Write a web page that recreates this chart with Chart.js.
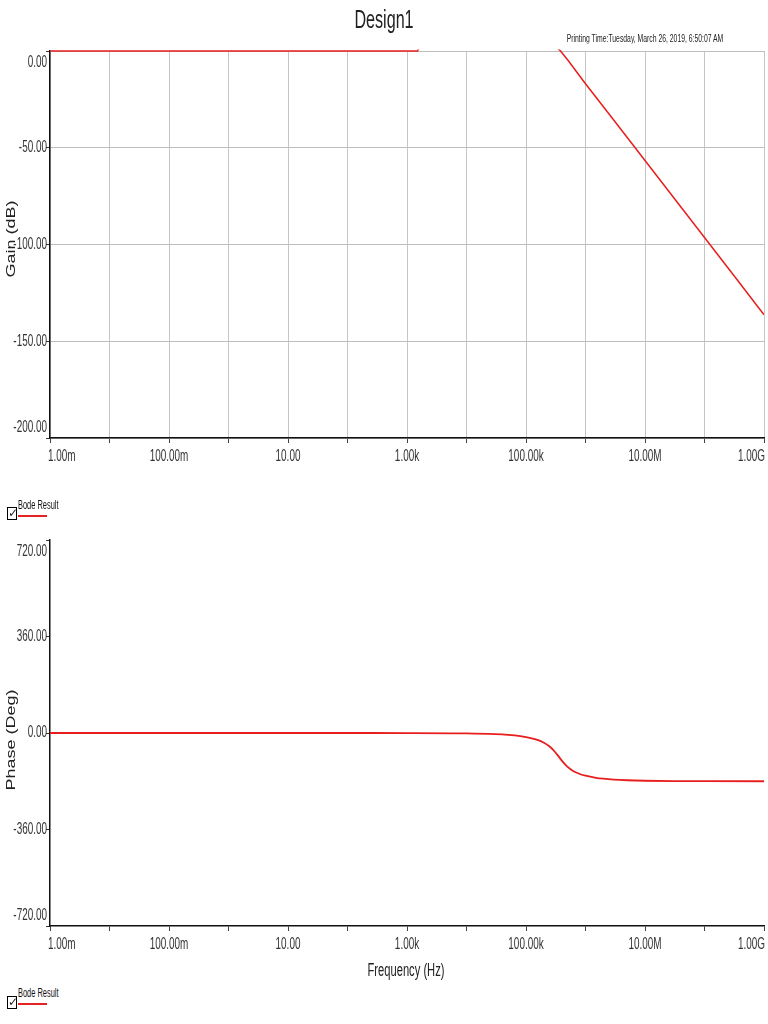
<!DOCTYPE html>
<html>
<head>
<meta charset="utf-8">
<script src="https://cdn.jsdelivr.net/npm/chart.js@4.4.1/dist/chart.umd.min.js"></script>
<style>
body { margin: 0; width: 768px; height: 1024px; position: relative; background: #fff; overflow: hidden; font-family: "Liberation Sans", Arial, sans-serif; color: #222; }
canvas { position: absolute; left: 0; }
#gainChart { top: 0; }
#phaseChart { top: 489px; }
.txt { position: absolute; white-space: nowrap; transform: translate(-50%, -50%) scaleX(0.62); line-height: 1; }
.vtxt { position: absolute; white-space: nowrap; transform: translate(-50%, -50%) scaleX(0.66) rotate(-90deg); line-height: 1; }
.chk { position: absolute; width: 10px; height: 13px; border: 1.5px solid #000; box-sizing: border-box; font: bold 12px "DejaVu Sans", sans-serif; line-height: 10px; text-align: center; overflow: hidden; }
.leg { position: absolute; font-size: 12px; transform: scaleX(0.62); transform-origin: left center; white-space: nowrap; color: #111; }
.legline { position: absolute; height: 1.5px; width: 29px; background: #e52222; }
</style>
</head>
<body>
<canvas id="gainChart" width="768" height="480"></canvas>
<canvas id="phaseChart" width="768" height="479"></canvas>

<div class="txt" style="left:384px; top:19px; font-size:26px;">Design1</div>
<div class="txt" style="left:645px; top:38px; font-size:11px;">Printing Time:Tuesday, March 26, 2019, 6:50:07 AM</div>
<div class="vtxt" style="left:11px; top:239px; font-size:18px;">Gain (dB)</div>
<div class="vtxt" style="left:11px; top:740px; font-size:18px;">Phase (Deg)</div>
<div class="txt" style="left:406px; top:970px; font-size:18px;">Frequency (Hz)</div>

<div class="chk" style="left:7px; top:507px;">✓</div>
<div class="leg" style="left:18px; top:498px;">Bode Result</div>
<div class="legline" style="left:18px; top:515px;"></div>
<div class="chk" style="left:7px; top:996px;">✓</div>
<div class="leg" style="left:18px; top:986px;">Bode Result</div>
<div class="legline" style="left:18px; top:1003px;"></div>

<script>
// frequency decades shown on the x axis (Hz)
var decades = [1e-3, 1e-2, 1e-1, 1, 10, 100, 1e3, 1e4, 1e5, 1e6, 1e7, 1e8, 1e9];
var xLabels = { 1e-3: '1.00m', 1e-1: '100.00m', 10: '10.00', 1e3: '1.00k', 1e5: '100.00k', 1e7: '10.00M', 1e9: '1.00G' };

// gain curve (slightly above 0 dB between ~1.5k and ~380k, so it is clipped there)
var gainFreq = [1e-3, 1e-2, 1e-1, 1, 10, 100, 1e3, 1.5e3, 1.7e3, 1e4, 1e5, 3e5, 3.8e5, 5e5, 1e6, 3e6, 1e7, 3e7, 1e8, 3e8, 1e9];
var gainDb = [0, 0, 0, 0, 0, 0, 0, 0, 3, 3, 3, 3, 0, -4.5, -16.9, -35.8, -56.6, -75.6, -96.4, -115.4, -136.3];

// phase curve
var phaseFreq = [1e-3, 1, 100, 1e3, 1e4, 3e4, 5e4, 8e4, 1.2e5, 1.6e5, 2e5, 2.5e5, 3e5, 3.5e5, 4e5, 4.5e5, 5e5, 6e5, 7e5, 8e5, 1e6, 1.5e6, 2e6, 3e6, 5e6, 1e7, 3e7, 1e8, 1e9];
var phaseDeg = [0, 0, 0, -0.15, -1.5, -4.4, -7.3, -12, -18.8, -26.7, -36.2, -50.6, -68, -86.4, -103, -116.3, -126.3, -139.6, -147.5, -152.9, -159.4, -167, -170.4, -173.7, -176.2, -178.1, -179.4, -179.8, -180];

var gainTicks = [-200, -150, -100, -50, 0];
var phaseTicks = [-720, -360, 0, 360, 720];

function toPoints(xs, ys) {
    return xs.map(function (x, i) { return { x: x, y: ys[i] }; });
}

// draws the tick labels squeezed like the original printout
var tickText = {
    id: 'tickText',
    afterDraw: function (chart) {
        var ctx = chart.ctx;
        var xs = chart.scales.x, ys = chart.scales.y;
        var area = chart.chartArea;
        ctx.save();
        ctx.fillStyle = '#333';
        ctx.font = '16px "Liberation Sans", Arial, sans-serif';
        ctx.textBaseline = 'middle';

        ctx.textAlign = 'right';
        ys.ticks.forEach(function (t, i) {
            var py = ys.getPixelForValue(t.value);
            if (i === 0) py -= 10;
            if (i === ys.ticks.length - 1) py += 12;
            ctx.save();
            ctx.translate(47, py);
            ctx.scale(0.62, 1);
            ctx.fillText(t.value.toFixed(2), 0, 0);
            ctx.restore();
        });

        decades.forEach(function (d, i) {
            if (!xLabels[d]) return;
            var px = xs.getPixelForValue(d);
            ctx.textAlign = 'center';
            if (i === 0) { ctx.textAlign = 'left'; px -= 2; }
            if (i === decades.length - 1) { ctx.textAlign = 'right'; px += 1; }
            ctx.save();
            ctx.translate(px, area.bottom + 19);
            ctx.scale(0.62, 1);
            ctx.fillText(xLabels[d], 0, 0);
            ctx.restore();
        });
        ctx.restore();
    }
};

function makeChart(id, data, yTicks, withGrid, smooth) {
    var ctx = document.getElementById(id).getContext('2d');
    return new Chart(ctx, {
        type: 'line',
        data: {
            datasets: [{
                label: 'Bode Result',
                data: data,
                borderColor: 'rgb(232, 30, 30)',
                borderWidth: smooth ? 1.8 : 1.5,
                pointRadius: 0,
                fill: false,
                cubicInterpolationMode: smooth ? 'monotone' : 'default',
                tension: 0,
                clip: { left: 0, right: 0, bottom: 0, top: 1.5 }
            }]
        },
        options: {
            responsive: false,
            animation: false,
            layout: { padding: { top: 51, right: 4, left: 0, bottom: 0 } },
            plugins: { legend: { display: false }, tooltip: { enabled: false } },
            scales: {
                x: {
                    type: 'logarithmic',
                    min: 1e-3,
                    max: 1e9,
                    afterBuildTicks: function (scale) {
                        scale.ticks = decades.map(function (v) { return { value: v }; });
                    },
                    afterFit: function (scale) { scale.height = 42; },
                    ticks: { display: false },
                    grid: {
                        drawOnChartArea: withGrid,
                        color: '#c6c6c6',
                        lineWidth: 1,
                        drawTicks: true,
                        tickLength: 5,
                        tickColor: '#444'
                    },
                    border: { display: true, color: '#111', width: 1.5 }
                },
                y: {
                    type: 'linear',
                    min: yTicks[0],
                    max: yTicks[yTicks.length - 1],
                    afterBuildTicks: function (scale) {
                        scale.ticks = yTicks.map(function (v) { return { value: v }; });
                    },
                    afterFit: function (scale) { scale.width = 50; },
                    ticks: { display: false },
                    grid: {
                        drawOnChartArea: withGrid,
                        color: '#bdbdbd',
                        lineWidth: 1,
                        drawTicks: true,
                        tickLength: 4,
                        tickColor: '#333'
                    },
                    border: { display: true, color: '#111', width: 1.5 }
                }
            }
        },
        plugins: [tickText]
    });
}

makeChart('gainChart', toPoints(gainFreq, gainDb), gainTicks, true, false);
makeChart('phaseChart', toPoints(phaseFreq, phaseDeg), phaseTicks, false, true);
</script>
</body>
</html>
